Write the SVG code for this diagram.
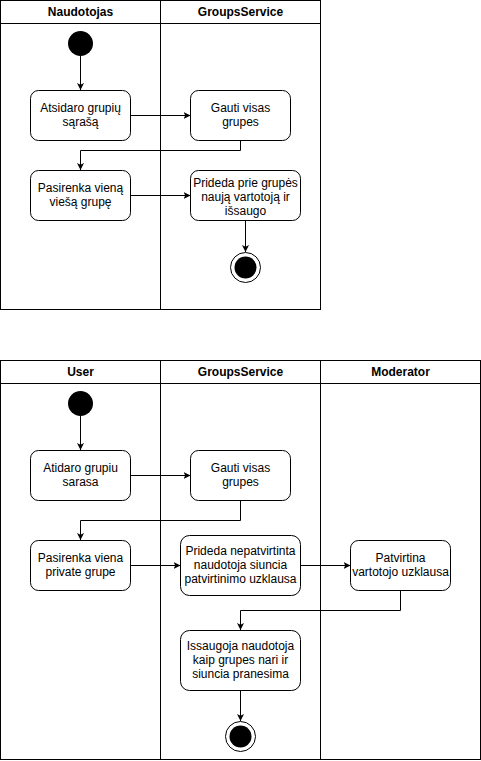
<svg xmlns="http://www.w3.org/2000/svg" width="481" height="761" viewBox="0 0 481 761">
<style>
.bg{fill:#ffffff}
.lane{fill:#ffffff;stroke:#000000;stroke-width:1}
.box{fill:#ffffff;stroke:#000000;stroke-width:1}
.hd{font-family:"Liberation Sans",Arial,sans-serif;font-size:12px;font-weight:bold;text-anchor:middle;fill:#000000}
.tx{font-family:"Liberation Sans",Arial,sans-serif;font-size:12px;text-anchor:middle;fill:#000000}
.edge{fill:none;stroke:#000000;stroke-width:1}
</style>
<defs>
<marker id="arr" viewBox="0 0 10 10" refX="10" refY="5" markerWidth="7" markerHeight="7" markerUnits="userSpaceOnUse" orient="auto">
<path d="M0,0 L10,5 L0,10 L2.5,5 Z" fill="#000000"/>
</marker>
</defs>
<rect class="bg" x="0" y="0" width="481" height="761"/>
<g id="pool1">
<rect class="lane" x="0.5" y="0.5" width="160" height="309"/>
<rect class="lane" x="160.5" y="0.5" width="160" height="309"/>
<line class="edge" x1="0.5" y1="23.5" x2="320.5" y2="23.5"/>
<text class="hd" x="80.5" y="16">Naudotojas</text>
<text class="hd" x="240.5" y="16">GroupsService</text>
</g>
<g id="pool2">
<rect class="lane" x="0.5" y="360.5" width="160" height="399"/>
<rect class="lane" x="160.5" y="360.5" width="160" height="399"/>
<rect class="lane" x="320.5" y="360.5" width="160" height="399"/>
<line class="edge" x1="0.5" y1="383.5" x2="480.5" y2="383.5"/>
<text class="hd" x="80.5" y="376">User</text>
<text class="hd" x="240.5" y="376">GroupsService</text>
<text class="hd" x="400.5" y="376">Moderator</text>
</g>
<g id="connectors">
<path class="edge" d="M80.5,56 L80.5,90" marker-end="url(#arr)"/>
<path class="edge" d="M130.5,115.5 L190.5,115.5" marker-end="url(#arr)"/>
<path class="edge" d="M240.5,140.5 L240.5,150.5 L80.5,150.5 L80.5,170" marker-end="url(#arr)"/>
<path class="edge" d="M130.5,195.5 L190.5,195.5" marker-end="url(#arr)"/>
<path class="edge" d="M245.5,220.5 L245.5,252" marker-end="url(#arr)"/>
<path class="edge" d="M80.5,416 L80.5,450" marker-end="url(#arr)"/>
<path class="edge" d="M130.5,475.5 L190.5,475.5" marker-end="url(#arr)"/>
<path class="edge" d="M240.5,500.5 L240.5,520.5 L80.5,520.5 L80.5,540" marker-end="url(#arr)"/>
<path class="edge" d="M130.5,565.5 L180.5,565.5" marker-end="url(#arr)"/>
<path class="edge" d="M300.5,565.5 L350.5,565.5" marker-end="url(#arr)"/>
<path class="edge" d="M400.5,590.5 L400.5,610.5 L240.5,610.5 L240.5,630" marker-end="url(#arr)"/>
<path class="edge" d="M240.5,690.5 L240.5,721" marker-end="url(#arr)"/>
</g>
<g id="start1"><circle cx="80.5" cy="43.5" r="12.5" fill="#000000"/></g>
<g id="n1"><rect class="box" x="30.5" y="90.5" width="100" height="50" rx="8"/>
<text class="tx" x="80.5" y="112">Atsidaro grupių</text><text class="tx" x="80.5" y="126">sąrašą</text></g>
<g id="n2"><rect class="box" x="190.5" y="90.5" width="100" height="50" rx="8"/>
<text class="tx" x="240.5" y="112">Gauti visas</text><text class="tx" x="240.5" y="126">grupes</text></g>
<g id="n3"><rect class="box" x="30.5" y="170.5" width="100" height="50" rx="8"/>
<text class="tx" x="80.5" y="192">Pasirenka vieną</text><text class="tx" x="80.5" y="206">viešą grupę</text></g>
<g id="n4"><rect class="box" x="190.5" y="170.5" width="110" height="50" rx="8"/>
<text class="tx" x="245.5" y="187">Prideda prie grupės</text><text class="tx" x="245.5" y="201">naują vartotoją ir</text><text class="tx" x="245.5" y="215">išsaugo</text></g>
<g id="end1"><circle cx="245.5" cy="267.5" r="15" fill="#ffffff" stroke="#000000" stroke-width="1"/><circle cx="245.5" cy="267.5" r="11" fill="#000000"/></g>
<g id="start2"><circle cx="80.5" cy="403.5" r="12.5" fill="#000000"/></g>
<g id="m1"><rect class="box" x="30.5" y="450.5" width="100" height="50" rx="8"/>
<text class="tx" x="80.5" y="472">Atidaro grupiu</text><text class="tx" x="80.5" y="486">sarasa</text></g>
<g id="m2"><rect class="box" x="190.5" y="450.5" width="100" height="50" rx="8"/>
<text class="tx" x="240.5" y="472">Gauti visas</text><text class="tx" x="240.5" y="486">grupes</text></g>
<g id="m3"><rect class="box" x="30.5" y="540.5" width="100" height="50" rx="8"/>
<text class="tx" x="80.5" y="562">Pasirenka viena</text><text class="tx" x="80.5" y="576">private grupe</text></g>
<g id="m4"><rect class="box" x="180.5" y="535.5" width="120" height="60" rx="9"/>
<text class="tx" x="240.5" y="555">Prideda nepatvirtinta</text><text class="tx" x="240.5" y="569">naudotoja siuncia</text><text class="tx" x="240.5" y="583">patvirtinimo uzklausa</text></g>
<g id="m5"><rect class="box" x="350.5" y="540.5" width="100" height="50" rx="8"/>
<text class="tx" x="400.5" y="562">Patvirtina</text><text class="tx" x="400.5" y="576">vartotojo uzklausa</text></g>
<g id="m6"><rect class="box" x="180.5" y="630.5" width="120" height="60" rx="9"/>
<text class="tx" x="240.5" y="650">Issaugoja naudotoja</text><text class="tx" x="240.5" y="664">kaip grupes nari ir</text><text class="tx" x="240.5" y="678">siuncia pranesima</text></g>
<g id="end2"><circle cx="240.5" cy="736.5" r="15" fill="#ffffff" stroke="#000000" stroke-width="1"/><circle cx="240.5" cy="736.5" r="11" fill="#000000"/></g>
</svg>
